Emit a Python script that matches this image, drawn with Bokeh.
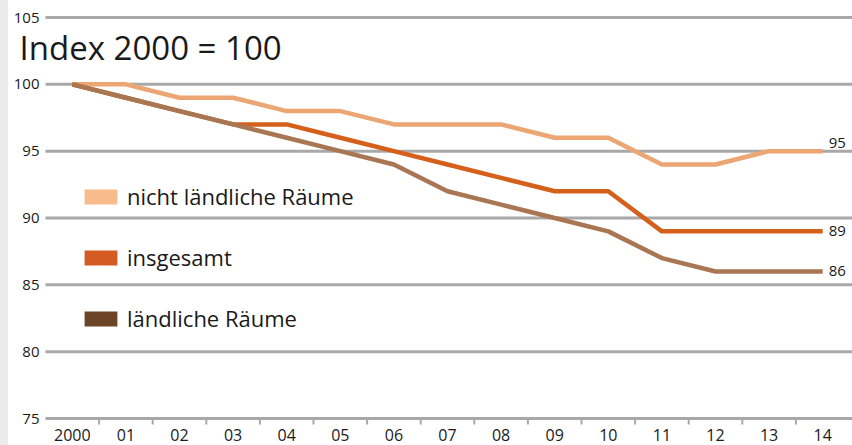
import numpy as np
from bokeh.plotting import figure
from bokeh.models import Range1d, Legend, LegendItem, Label, ColumnDataSource
from bokeh.embed import file_html
from bokeh.resources import INLINE
from bokeh.core.properties import value

# ---------------- data ----------------
years = ["2000", "01", "02", "03", "04", "05", "06", "07", "08", "09",
         "10", "11", "12", "13", "14"]
nicht_laendlich = [100, 100, 99, 99, 98, 98, 97, 97, 97, 96, 96, 94, 94, 95, 95]
insgesamt = [100, 99, 98, 97, 97, 96, 95, 94, 93, 92, 92, 89, 89, 89, 89]
laendlich = [100, 99, 98, 97, 96, 95, 94, 92, 91, 90, 89, 87, 86, 86, 86]
y_ticks = [75, 80, 85, 90, 95, 100, 105]

series_names = ["nicht ländliche Räume", "insgesamt", "ländliche Räume"]
series_values = [nicht_laendlich, insgesamt, laendlich]

# ---------------- style ----------------
FONT = "Open Sans"
line_colors = ["#eca673", "#d4601c", "#a87652"]
swatch_colors = ["#f8bc8c", "#d45b22", "#6b4526"]
end_label_offsets = [-8, 0, 0]
GRID = "#a8a8a8"
TEXT = "#1a1a1a"

W, H = 844, 445
TOP_PX = 17        # pixel position of the top tick line
AXIS_PX = 418      # pixel position of the bottom (axis) line
LEFT_GAP = 37      # room for y tick labels left of the plot area
RIGHT_GAP = 3
TICK_PX = 6

xs = list(range(len(years)))
n = len(years)
band = (W - LEFT_GAP - RIGHT_GAP) / n
x_start = -0.5 - LEFT_GAP / band
x_end = n - 0.5 + RIGHT_GAP / band
y_lo, y_hi = y_ticks[0], y_ticks[-1]
unit = (AXIS_PX - TOP_PX) / (y_hi - y_lo)
y_top = y_hi + TOP_PX / unit
y_bottom = y_lo - (H - AXIS_PX) / unit

p = figure(width=W, height=H, output_backend="svg", toolbar_location=None,
           x_range=Range1d(x_start, x_end), y_range=Range1d(y_bottom, y_top),
           x_axis_location=None, y_axis_location=None,
           min_border=0)
p.outline_line_color = None
p.background_fill_color = "white"
p.border_fill_color = "white"
p.xgrid.grid_line_color = None
p.ygrid.grid_line_color = None

# horizontal grid lines at the y ticks (bottom one is the x axis line)
p.segment(x0=[-0.5] * len(y_ticks), x1=[x_end] * len(y_ticks),
          y0=y_ticks, y1=y_ticks, line_color=GRID, line_width=3)

# x axis tick marks between the categories
bounds = [i + 0.5 for i in xs[:-1]]
p.segment(x0=bounds, x1=bounds, y0=[y_lo] * len(bounds),
          y1=[y_lo - TICK_PX / unit] * len(bounds),
          line_color=GRID, line_width=2)

# y tick labels
p.text(x=[-0.5] * len(y_ticks), y=y_ticks, text=[str(t) for t in y_ticks],
       x_offset=-6, text_align="right", text_baseline="middle",
       text_font=value(FONT), text_font_size="15px", text_color=TEXT)

# x tick labels
p.text(x=xs, y=[y_lo] * n, text=years, y_offset=16,
       text_align="center", text_baseline="middle",
       text_font=value(FONT), text_font_size="16px", text_color=TEXT)

# lines
for vals, col in zip(series_values, line_colors):
    p.line(xs, vals, line_color=col, line_width=4.5, line_join="round")

# end labels
src = ColumnDataSource(dict(
    x=[xs[-1]] * 3,
    y=[v[-1] for v in series_values],
    t=[str(v[-1]) for v in series_values],
    yo=end_label_offsets,
))
p.text(x="x", y="y", text="t", y_offset="yo", source=src, x_offset=6,
       text_font=value(FONT), text_font_size="15px", text_color=TEXT,
       text_baseline="middle", text_align="left")

# legend swatches
items = []
for name, col in zip(series_names, swatch_colors):
    r = p.rect(x=[np.nan], y=[np.nan], width=1, height=1,
               fill_color=col, line_color=None)
    items.append(LegendItem(label=name, renderers=[r]))

legend = Legend(items=items, location=(72, 112), orientation="vertical",
                glyph_width=41, glyph_height=19, label_height=19,
                spacing=31, padding=0, margin=0, label_standoff=6,
                border_line_color=None, background_fill_alpha=0,
                label_text_font=FONT, label_text_font_size="22px",
                label_text_color=TEXT)
p.add_layout(legend)

# title inside plot
p.add_layout(Label(x=11, y=398, x_units="screen", y_units="screen",
                   text="Index 2000 = 100", text_font=FONT,
                   text_font_size="33px", text_color=TEXT,
                   text_baseline="alphabetic"))

html = file_html(p, INLINE)
i = html.rfind("<body")
html = html[:i] + '<body style="padding-left:8px;background:linear-gradient(to right,#ebebeb 8px,#ffffff 8px)"' + html[i + 5:]
open("out.html", "w").write(html)
